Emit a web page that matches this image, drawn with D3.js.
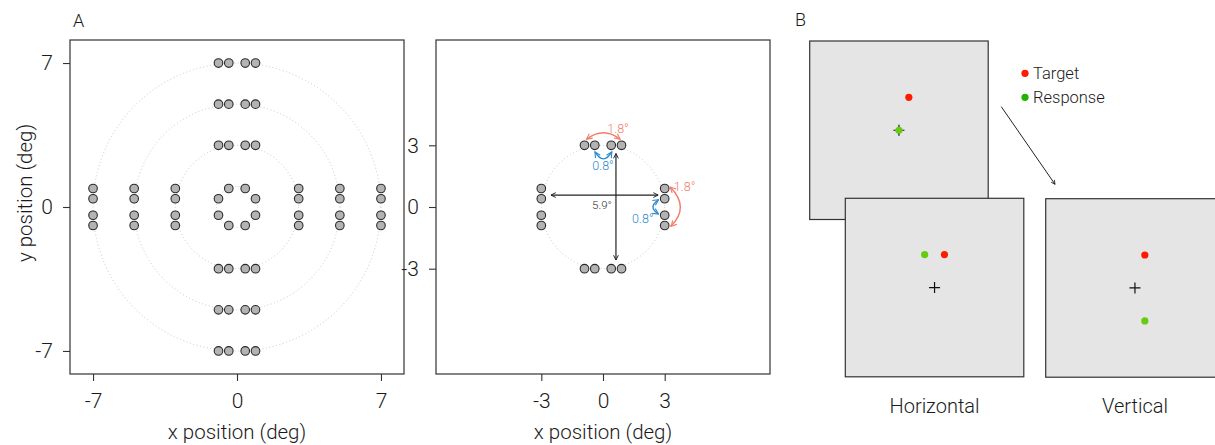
<!DOCTYPE html>
<html>
<head>
<meta charset="utf-8">
<script src="https://cdn.jsdelivr.net/npm/d3@7"></script>
<style>
  body { margin: 0; background: #fff; }
  svg { display: block; font-family: Roboto, "Liberation Sans", Arial, sans-serif; font-weight: 300; }
  .axis text { fill: #1a1a1a; }
  .axis line { stroke: #333; stroke-width: 1.1; }
</style>
</head>
<body>
<div id="chart"></div>
<script>
// ---- data (degrees of visual angle) ----
var eccentricities = [3, 5, 7];             // rows / columns of flanking stimuli
var flankOffsets = [-0.9, -0.4, 0.4, 0.9];   // positions along each row
var innerRing = [[-0.4, 0.9], [0.4, 0.9], [-0.9, 0.4], [0.9, 0.4],
                 [-0.9, -0.4], [0.9, -0.4], [-0.4, -0.9], [0.4, -0.9]];
var guideRadiiA = [1, 3, 5, 7];
var guideRadiiB = [3];
var ticksA = [-7, 0, 7];
var ticksB = [-3, 0, 3];

// annotation arrows in panel A (right): [x1, y1, x2, y2, bulgeX, bulgeY]
var spanArrows = [[-2.53, 0.58, 2.68, 0.58], [0.63, 2.6, 0.63, -2.58]];
var blueArcs = [[-0.39, 2.68, 0.43, 2.68, 0.02, 2.34], [2.70, 0.35, 2.70, -0.34, 2.43, 0.0]];
var redArcs = [[-0.8, 3.29, 0.83, 3.29, 0.02, 3.61], [3.27, 0.97, 3.30, -0.94, 3.76, 0.0]];
var annoLabels = [
  { text: "5.9°", x: -0.05, y: 0.1, color: "#333", size: 11.5 },
  { text: "0.8°", x: 0.0, y: 2.0, color: "#2d8bd0", size: 12.5 },
  { text: "0.8°", x: 1.94, y: -0.57, color: "#2d8bd0", size: 12.5 },
  { text: "1.8°", x: 0.73, y: 3.79, color: "#f57c6a", size: 12.5 },
  { text: "1.8°", x: 3.97, y: 0.98, color: "#f57c6a", size: 12.5 }
];

// panel B screens: target / response positions on screen (deg)
var screenNames = ["", "Horizontal", "Vertical"];
var targetPos = [[0.9, 3], [0.9, 3], [0.9, 3]];
var responsePos = [[0, 0], [-0.9, 3], [0.9, -3]];
var legendItems = ["Target", "Response"];

var W = 1215, H = 445;
var svg = d3.select("#chart").append("svg").attr("width", W).attr("height", H);

var defs = svg.append("defs");
function marker(id, color) {
  defs.append("marker").attr("id", id)
    .attr("viewBox", "0 0 10 10").attr("refX", 9).attr("refY", 5)
    .attr("markerWidth", 5).attr("markerHeight", 5)
    .attr("orient", "auto-start-reverse")
    .append("path").attr("d", "M1,1 L9,5 L1,9").attr("fill", "none")
    .attr("stroke", color).attr("stroke-width", 1.6);
}
marker("ah-black", "#222");
marker("ah-blue", "#2d8bd0");
marker("ah-red", "#f57c6a");

function allStimuli(ecc) {
  var pts = [];
  ecc.forEach(function (r) {
    flankOffsets.forEach(function (o) {
      pts.push([o, r], [o, -r], [-r, o], [r, o]);
    });
  });
  return pts;
}

function panel(left, ticks, stimuli, radii, showYTitle) {
  var x = d3.scaleLinear().domain([-8.12, 8.12]).range([left, left + 334]);
  var y = d3.scaleLinear().domain([-8.12, 8.12]).range([374, 40]);
  var g = svg.append("g");

  g.selectAll(".guide").data(radii).enter().append("ellipse")
    .attr("cx", x(0)).attr("cy", y(0))
    .attr("rx", function (d) { return x(d) - x(0); })
    .attr("ry", function (d) { return y(0) - y(d); })
    .attr("fill", "none").attr("stroke", "#c8c8c8")
    .attr("stroke-width", 1).attr("stroke-dasharray", "1,2.5");

  g.append("rect").attr("x", left).attr("y", 40).attr("width", 334).attr("height", 334)
    .attr("fill", "none").attr("stroke", "#333").attr("stroke-width", 1.2);

  g.selectAll(".stim").data(stimuli).enter().append("circle")
    .attr("cx", function (d) { return x(d[0]); })
    .attr("cy", function (d) { return y(d[1]); })
    .attr("r", 4.3).attr("fill", "#b3b3b3")
    .attr("stroke", "#2a2a2a").attr("stroke-width", 1.1);

  var fmt = function (d) { return String(d); };   // plain hyphen minus, as in the original
  var xa = g.append("g").attr("class", "axis").attr("transform", "translate(0,374)")
    .call(d3.axisBottom(x).tickValues(ticks).tickFormat(fmt).tickSize(7).tickPadding(12));
  var ya = g.append("g").attr("class", "axis").attr("transform", "translate(" + left + ",0)")
    .call(d3.axisLeft(y).tickValues(ticks).tickFormat(fmt).tickSize(7).tickPadding(10));
  [xa, ya].forEach(function (a) {
    a.select(".domain").remove();
    a.selectAll("text").attr("font-size", 21)
      .attr("font-family", "Roboto, Liberation Sans, Arial, sans-serif").attr("font-weight", 300);
  });

  g.append("text").attr("x", x(0)).attr("y", 439).attr("text-anchor", "middle")
    .attr("font-size", 20.5).attr("fill", "#1a1a1a").text("x position (deg)");
  if (showYTitle) {
    g.append("text").attr("transform", "translate(32,193) rotate(-90)")
      .attr("text-anchor", "middle").attr("font-size", 20.5).attr("fill", "#1a1a1a")
      .text("y position (deg)");
  }
  return { x: x, y: y, g: g };
}

var stimA = allStimuli(eccentricities).concat(innerRing);
var pA = panel(70, ticksA, stimA, guideRadiiA, true);
var pB = panel(436, ticksB, allStimuli([3]), guideRadiiB, false);

// annotations on right panel
function curve(d) {
  var x = pB.x, y = pB.y;
  var x1 = x(d[0]), y1 = y(d[1]), x2 = x(d[2]), y2 = y(d[3]);
  var mx = (x1 + x2) / 2, my = (y1 + y2) / 2;
  var cx = mx + 2 * (x(d[4]) - mx), cy = my + 2 * (y(d[5]) - my);
  return "M" + x1 + "," + y1 + " Q" + cx + "," + cy + " " + x2 + "," + y2;
}
pB.g.selectAll(".span").data(spanArrows).enter().append("line")
  .attr("x1", function (d) { return pB.x(d[0]); })
  .attr("y1", function (d) { return pB.y(d[1]); })
  .attr("x2", function (d) { return pB.x(d[2]); })
  .attr("y2", function (d) { return pB.y(d[3]); })
  .attr("stroke", "#222").attr("stroke-width", 1.2)
  .attr("marker-start", "url(#ah-black)").attr("marker-end", "url(#ah-black)");
pB.g.selectAll(".barc").data(blueArcs).enter().append("path")
  .attr("d", curve).attr("fill", "none").attr("stroke", "#2d8bd0").attr("stroke-width", 1.4)
  .attr("marker-start", "url(#ah-blue)").attr("marker-end", "url(#ah-blue)");
pB.g.selectAll(".rarc").data(redArcs).enter().append("path")
  .attr("d", curve).attr("fill", "none").attr("stroke", "#f57c6a").attr("stroke-width", 1.4)
  .attr("marker-start", "url(#ah-red)").attr("marker-end", "url(#ah-red)");
pB.g.selectAll(".alab").data(annoLabels).enter().append("text")
  .attr("x", function (d) { return pB.x(d.x); })
  .attr("y", function (d) { return pB.y(d.y); })
  .attr("dy", "0.35em").attr("text-anchor", "middle")
  .attr("font-size", function (d) { return d.size; })
  .attr("fill", function (d) { return d.color; })
  .text(function (d) { return d.text; });

// panel letters
svg.append("text").attr("x", 73).attr("y", 27).attr("font-size", 18).attr("fill", "#1a1a1a").text("A");
svg.append("text").attr("x", 795).attr("y", 26).attr("font-size", 18).attr("fill", "#1a1a1a").text("B");

// ---- panel B: screens ----
var screenBoxes = [[809.7, 41], [845.3, 198.3], [1045.7, 198.7]];
var size = 178.5;
screenBoxes.forEach(function (b, i) {
  var sx = d3.scaleLinear().domain([-8.12, 8.12]).range([b[0], b[0] + size]);
  var sy = d3.scaleLinear().domain([-8.12, 8.12]).range([b[1] + size, b[1]]);
  var g = svg.append("g");
  g.append("rect").attr("x", b[0]).attr("y", b[1]).attr("width", size).attr("height", size)
    .attr("fill", "#e5e5e5").attr("stroke", "#333").attr("stroke-width", 1.2);
  var cx = sx(0), cy = sy(0);
  g.append("path").attr("d", "M" + (cx - 5.5) + "," + cy + "H" + (cx + 5.5) + "M" + cx + "," + (cy - 5.5) + "V" + (cy + 5.5))
    .attr("stroke", "#111").attr("stroke-width", 1.2);
  g.append("circle").attr("cx", sx(targetPos[i][0])).attr("cy", sy(targetPos[i][1]))
    .attr("r", 3.6).attr("fill", "#ff1a00");
  g.append("circle").attr("cx", sx(responsePos[i][0])).attr("cy", sy(responsePos[i][1]))
    .attr("r", 3.6).attr("fill", "#66cc11");
  if (screenNames[i]) {
    svg.append("text").attr("x", b[0] + size / 2).attr("y", 413).attr("text-anchor", "middle")
      .attr("font-size", 20).attr("fill", "#1a1a1a").text(screenNames[i]);
  }
});

// legend
var legColors = d3.scaleOrdinal().domain(legendItems).range(["#ff1a00", "#22b300"]);
var leg = svg.selectAll(".leg").data(legendItems).enter().append("g")
  .attr("transform", function (d, i) { return "translate(1025," + (73.3 + i * 24) + ")"; });
leg.append("circle").attr("r", 3.6).attr("fill", function (d) { return legColors(d); });
leg.append("text").attr("x", 8).attr("dy", "0.35em").attr("font-size", 16.5).attr("fill", "#1a1a1a")
  .text(function (d) { return d; });

// arrow between screens
svg.append("line").attr("x1", 1001.3).attr("y1", 106.7).attr("x2", 1055).attr("y2", 184.3)
  .attr("stroke", "#222").attr("stroke-width", 1).attr("marker-end", "url(#ah-black)");
</script>
</body>
</html>
